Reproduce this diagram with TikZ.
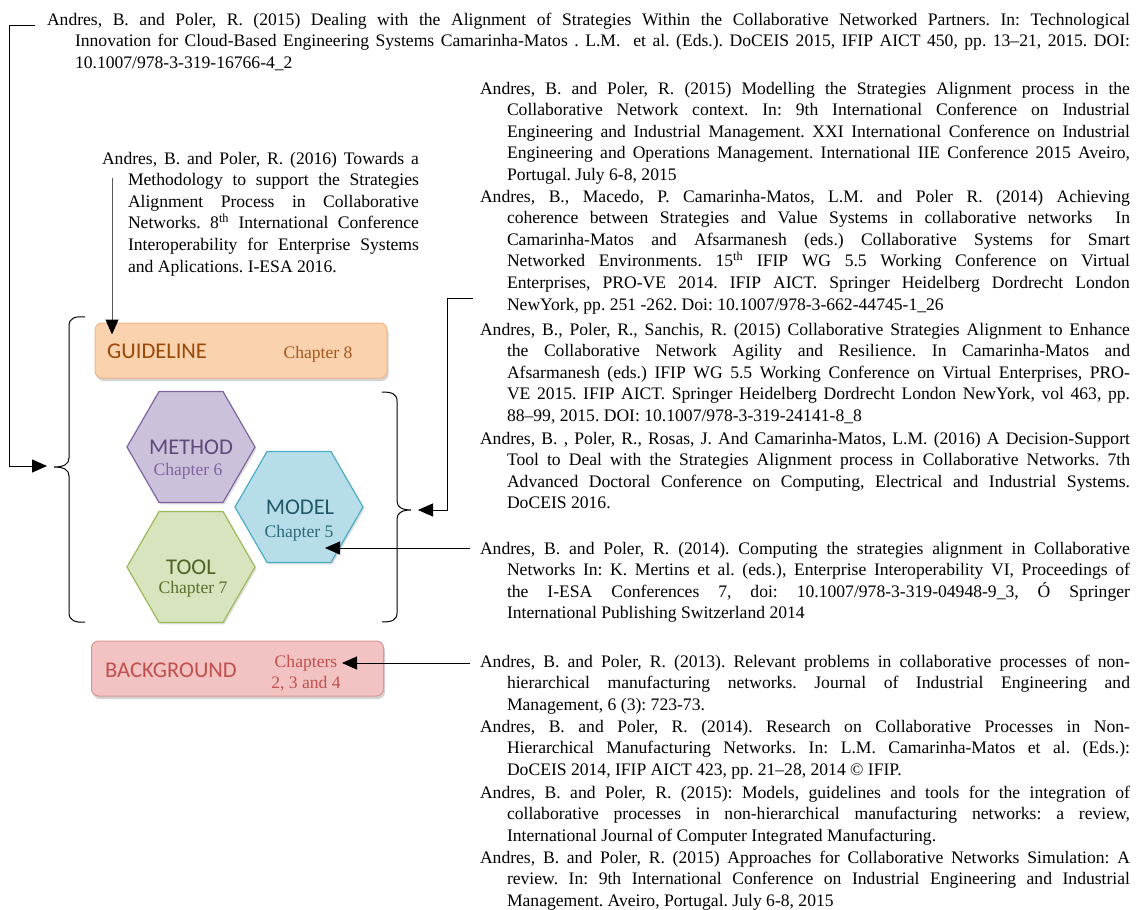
\documentclass[tikz,border=0pt]{standalone}
\usepackage{fontspec}
\setmainfont{Liberation Serif}
\newfontfamily\calibrifont{Carlito}
\usetikzlibrary{arrows.meta,shapes.geometric,shadows,calc}

\definecolor{guidefill}{HTML}{FBD2AE}
\definecolor{guidedraw}{HTML}{F2B58A}
\definecolor{guidetext}{HTML}{984807}
\definecolor{guidech}{HTML}{A5561C}
\definecolor{methfill}{HTML}{CCC1DA}
\definecolor{methdraw}{HTML}{8064A2}
\definecolor{methtext}{HTML}{5F497A}
\definecolor{methch}{HTML}{8064A2}
\definecolor{modfill}{HTML}{B7DEE8}
\definecolor{moddraw}{HTML}{4BACC6}
\definecolor{modtext}{HTML}{215968}
\definecolor{modch}{HTML}{2A6878}
\definecolor{toolfill}{HTML}{D7E4BD}
\definecolor{tooldraw}{HTML}{9BBB59}
\definecolor{tooltext}{HTML}{4F6228}
\definecolor{toolch}{HTML}{5A6E2E}
\definecolor{bgfill}{HTML}{F3C3C3}
\definecolor{bgdraw}{HTML}{D99694}
\definecolor{bgtext}{HTML}{C0504D}

% reference entry: hanging indent, forced justified line breaks
\newcommand\refentry[3]{\parbox[t]{#1}{\fontsize{17.6pt}{21.6pt}\selectfont
  \frenchspacing
  \tolerance=10000 \hbadness=10000 \hfuzz=20pt
  \hyphenpenalty=10000 \exhyphenpenalty=10000
  \hangindent=#2\hangafter=1\noindent #3}}

\begin{document}
\begin{tikzpicture}[x=1pt,y=-1pt,
  refnode/.style={anchor=base west, inner sep=0pt, outer sep=0pt},
  wire/.style={line width=1pt},
  conn/.style={line width=1pt, -{Triangle[length=15pt,width=13pt]}},
  hexa/.style={regular polygon, regular polygon sides=6, minimum size=128pt,
    inner sep=0pt, line width=1.2pt,
    drop shadow={opacity=0.25, shadow xshift=1.5pt, shadow yshift=-2pt}},
  chapbox/.style={rectangle, rounded corners=7pt, minimum width=292pt,
    minimum height=55pt, inner sep=0pt, line width=1pt,
    drop shadow={opacity=0.35, shadow xshift=1.5pt, shadow yshift=-3pt}},
  bigword/.style={inner sep=0pt, font=\calibrifont\fontsize{22.5pt}{27pt}\selectfont},
  chapword/.style={inner sep=0pt, anchor=base, font=\fontsize{17.6pt}{21pt}\selectfont},
]
\useasboundingbox (0,0) rectangle (1141,910);

% ---------- chapter boxes and hexagons ----------
\node[chapbox, fill=guidefill, draw=guidedraw] (guide) at (241,350.5) {};
\node[bigword, anchor=base west, text=guidetext] (guidename) at (107,358) {GUIDELINE};
\node[chapword, text=guidech] (guidech) at (318,358) {Chapter 8};

\node[hexa, fill=methfill, draw=methdraw] (meth) at (191,447) {};
\node[bigword, anchor=base, text=methtext] (methname) at (191,454) {METHOD};
\node[chapword, text=methch] (methchap) at (188,475) {Chapter 6};

\node[hexa, fill=modfill, draw=moddraw] (mod) at (299,507) {};
\node[bigword, anchor=base, text=modtext] (modname) at (300,514) {MODEL};
\node[chapword, text=modch] (modchap) at (299,537) {Chapter 5};

\node[hexa, fill=toolfill, draw=tooldraw] (tool) at (191,567) {};
\node[bigword, anchor=base, text=tooltext] (toolname) at (191,574) {TOOL};
\node[chapword, text=toolch] (toolchap) at (193,593) {Chapter 7};

\node[chapbox, fill=bgfill, draw=bgdraw] (bg) at (237.5,668.5) {};
\node[bigword, anchor=base west, text=bgtext] (bgname) at (105,677) {BACKGROUND};
\node[chapword, text=bgtext] (bgchap1) at (306,667) {Chapters};
\node[chapword, text=bgtext] (bgchap2) at (306,688) {2, 3 and 4};

% ---------- braces ----------
\coordinate (lbtip) at (54,467);
\draw[wire] (85,317) .. controls (75,316) and (69,318) .. (69,326) -- (69,458)
  .. controls (69,464) and (64,467) .. (lbtip)
  .. controls (64,467) and (69,470) .. (69,476) -- (69,613)
  .. controls (69,620) and (75,623) .. (85,622);
\coordinate (rbtip) at (411,510);
\draw[wire] (382,392) .. controls (392,392) and (397,394) .. (397,401) -- (397,501)
  .. controls (397,507) and (402,510) .. (rbtip)
  .. controls (402,510) and (397,513) .. (397,519) -- (397,613)
  .. controls (397,620) and (392,622) .. (382,622);

% ---------- references ----------
\node[refnode] (refA) at (47,25) {\refentry{1083pt}{28pt}{%
Andres, B. and Poler, R. (2015) Dealing with the Alignment of Strategies Within the Collaborative Networked Partners. In: Technological \linebreak
Innovation for Cloud-Based Engineering Systems Camarinha-Matos . L.M.\ \ et al. (Eds.). DoCEIS 2015, IFIP AICT 450, pp. 13–21, 2015. DOI: \linebreak
10.1007/978-3-319-16766-4\_2}};

\node[refnode] (refM) at (102,164) {\refentry{317pt}{26pt}{%
Andres, B. and Poler, R. (2016) Towards a \linebreak
Methodology to support the Strategies \linebreak
Alignment Process in Collaborative \linebreak
Networks. 8\textsuperscript{th} International Conference \linebreak
Interoperability for Enterprise Systems \linebreak
and Aplications. I-ESA 2016.}};

\node[refnode] (refB) at (480,94) {\refentry{650pt}{27pt}{%
Andres, B. and Poler, R. (2015) Modelling the Strategies Alignment process in the \linebreak
Collaborative Network context. In: 9th International Conference on Industrial \linebreak
Engineering and Industrial Management. XXI International Conference on Industrial \linebreak
Engineering and Operations Management. International IIE Conference 2015 Aveiro, \linebreak
Portugal. July 6-8, 2015}};

\node[refnode] (refC) at (480,202) {\refentry{650pt}{27pt}{%
Andres, B., Macedo, P. Camarinha-Matos, L.M. and Poler R. (2014) Achieving \linebreak
coherence between Strategies and Value Systems in collaborative networks\ \ In \linebreak
Camarinha-Matos and Afsarmanesh (eds.) Collaborative Systems for Smart \linebreak
Networked Environments. 15\textsuperscript{th} IFIP WG 5.5 Working Conference on Virtual \linebreak
Enterprises, PRO-VE 2014. IFIP AICT. Springer Heidelberg Dordrecht London \linebreak
NewYork, pp. 251 -262. Doi: 10.1007/978-3-662-44745-1\_26}};

\node[refnode] (refD) at (480,335) {\refentry{650pt}{27pt}{%
Andres, B., Poler, R., Sanchis, R. (2015) Collaborative Strategies Alignment to Enhance \linebreak
the Collaborative Network Agility and Resilience. In Camarinha-Matos and \linebreak
Afsarmanesh (eds.) IFIP WG 5.5 Working Conference on Virtual Enterprises, PRO-\linebreak
VE 2015. IFIP AICT. Springer Heidelberg Dordrecht London NewYork, vol 463, pp. \linebreak
88–99, 2015. DOI: 10.1007/978-3-319-24141-8\_8}};

\node[refnode] (refE) at (480,444) {\refentry{650pt}{27pt}{%
Andres, B. , Poler, R., Rosas, J. And Camarinha-Matos, L.M. (2016) A Decision-Support \linebreak
Tool to Deal with the Strategies Alignment process in Collaborative Networks. 7th \linebreak
Advanced Doctoral Conference on Computing, Electrical and Industrial Systems. \linebreak
DoCEIS 2016.}};

\node[refnode] (refF) at (480,554) {\refentry{650pt}{27pt}{%
Andres, B. and Poler, R. (2014). Computing the strategies alignment in Collaborative \linebreak
Networks In: K. Mertins et al. (eds.), Enterprise Interoperability VI, Proceedings of \linebreak
the I-ESA Conferences 7, doi: 10.1007/978-3-319-04948-9\_3, Ó Springer \linebreak
International Publishing Switzerland 2014}};

\node[refnode] (refG) at (480,667) {\refentry{650pt}{27pt}{%
Andres, B. and Poler, R. (2013). Relevant problems in collaborative processes of non-\linebreak
hierarchical manufacturing networks. Journal of Industrial Engineering and \linebreak
Management, 6 (3): 723-73.}};

\node[refnode] (refH) at (480,732) {\refentry{650pt}{27pt}{%
Andres, B. and Poler, R. (2014). Research on Collaborative Processes in Non-\linebreak
Hierarchical Manufacturing Networks. In: L.M. Camarinha-Matos et al. (Eds.): \linebreak
DoCEIS 2014, IFIP AICT 423, pp. 21–28, 2014 © IFIP.}};

\node[refnode] (refI) at (480,798) {\refentry{650pt}{27pt}{%
Andres, B. and Poler, R. (2015): Models, guidelines and tools for the integration of \linebreak
collaborative processes in non-hierarchical manufacturing networks: a review, \linebreak
International Journal of Computer Integrated Manufacturing.}};

\node[refnode] (refJ) at (480,863) {\refentry{650pt}{27pt}{%
Andres, B. and Poler, R. (2015) Approaches for Collaborative Networks Simulation: A \linebreak
review. In: 9th International Conference on Industrial Engineering and Industrial \linebreak
Management. Aveiro, Portugal. July 6-8, 2015}};

% ---------- connectors ----------
\coordinate (aStart) at (35,25);
\coordinate (aCorner1) at (9,25);
\coordinate (aCorner2) at (9,466);
\coordinate (aEnd) at (47,466);
\draw[conn] (aStart) -- (aCorner1) -- (aCorner2) -- (aEnd);

\coordinate (mStart) at (112,178);
\draw[conn] (mStart) -- (mStart |- guide.north) -- ++(0,12);

\coordinate (rStart) at (473,298);
\coordinate (rCorner1) at (447,298);
\coordinate (rCorner2) at (447,510);
\coordinate (rEnd) at (418,510);
\draw[conn] (rStart) -- (rCorner1) -- (rCorner2) -- (rEnd);

\coordinate (fStart) at (470,548);
\coordinate (fEnd) at (325,548);
\draw[conn] (fStart) -- (fEnd);

\coordinate (gStart) at (470,663);
\coordinate (gEnd) at (342,663);
\draw[conn] (gStart) -- (gEnd);
\end{tikzpicture}
\end{document}
